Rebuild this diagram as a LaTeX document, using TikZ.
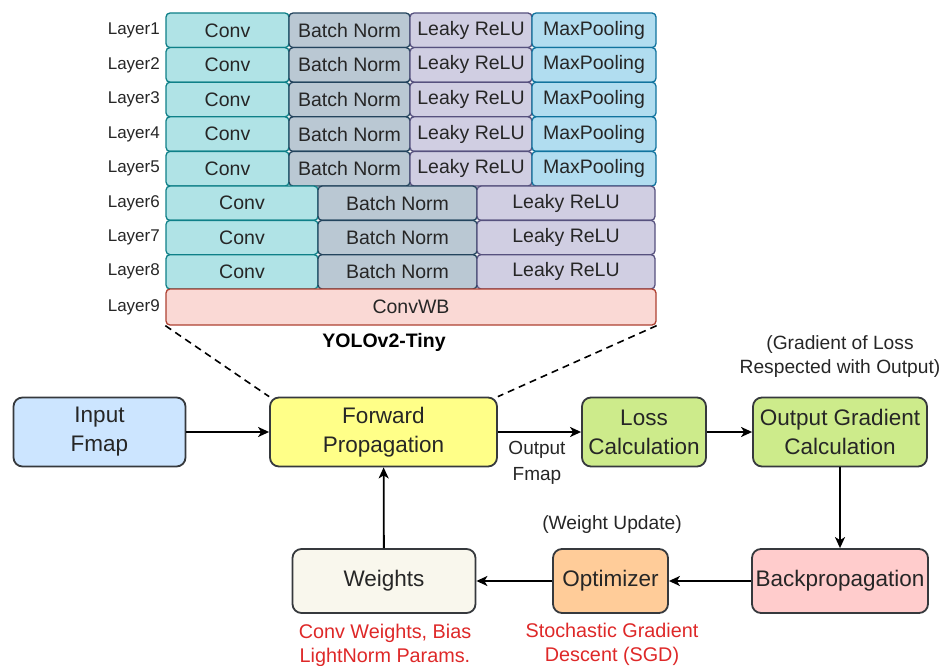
\documentclass[tikz,border=0pt]{standalone}
\usepackage{fontspec}
\setmainfont{Liberation Sans}
\usetikzlibrary{arrows.meta}
\definecolor{convfill}{HTML}{B0E3E6}\definecolor{convdraw}{HTML}{0E8088}
\definecolor{bnfill}{HTML}{BAC8D3}\definecolor{bndraw}{HTML}{23445D}
\definecolor{lrfill}{HTML}{D0CEE2}\definecolor{lrdraw}{HTML}{56517E}
\definecolor{mpfill}{HTML}{B1DDF0}\definecolor{mpdraw}{HTML}{10739E}
\definecolor{wbfill}{HTML}{FAD9D5}\definecolor{wbdraw}{HTML}{AE4132}
\definecolor{boxdraw}{HTML}{36393D}
\definecolor{inpfill}{HTML}{CCE5FF}
\definecolor{fwdfill}{HTML}{FFFF88}
\definecolor{grnfill}{HTML}{CDEB8B}
\definecolor{bpfill}{HTML}{FFCCCC}
\definecolor{optfill}{HTML}{FFCC99}
\definecolor{wtfill}{HTML}{F9F7ED}
\definecolor{txt}{HTML}{262626}
\definecolor{redtxt}{RGB}{222,40,40}
\begin{document}
\begin{tikzpicture}[x=1pt,y=-1pt,
  cell/.style={draw, rounded corners=4pt, line width=1.3pt, inner sep=0pt, text=txt,
    font=\fontsize{19.5}{20}\selectfont},
  convc/.style={cell, fill=convfill, draw=convdraw},
  bnc/.style={cell, fill=bnfill, draw=bndraw},
  lrc/.style={cell, fill=lrfill, draw=lrdraw},
  mpc/.style={cell, fill=mpfill, draw=mpdraw},
  wbc/.style={cell, fill=wbfill, draw=wbdraw},
  lab/.style={anchor=east, inner sep=0pt, text=txt, font=\fontsize{17}{18}\selectfont},
  box/.style={draw=boxdraw, line width=1.8pt, rounded corners=9pt, inner sep=0pt,
    align=center, text=txt, font=\fontsize{22.5}{29}\selectfont},
  note/.style={align=center, inner sep=0pt, text=txt, font=\fontsize{19.2}{24}\selectfont},
  rednote/.style={align=center, inner sep=0pt, text=redtxt, font=\fontsize{19.8}{24}\selectfont},
  arr/.style={line width=1.8pt, draw=black, -{Stealth[length=11pt,width=10pt,inset=3pt]}},
  zoomline/.style={line width=1.6pt, dash pattern=on 7pt off 5pt}
]
\useasboundingbox (0,0) rectangle (943,666);

% Layers 1-5
\foreach \i/\y in {1/30.3,2/64.9,3/99.5,4/134.1,5/168.7}{
  \node[convc, minimum width=123pt, minimum height=34.6pt] (conv\i) at (227.5,\y) {Conv};
  \node[bnc, minimum width=121pt, minimum height=34.6pt] (bn\i) at (349.5,\y) {Batch Norm};
  \node[lrc, minimum width=122pt, minimum height=34.6pt] (lr\i) at (471,\y) {Leaky ReLU};
  \node[mpc, minimum width=124pt, minimum height=34.6pt] (mp\i) at (594,\y) {MaxPooling};
  \node[lab] (lab\i) at (160,\y) {Layer\i};
}
% Layers 6-8
\foreach \i/\y in {6/203.2,7/237.5,8/271.8}{
  \node[convc, minimum width=152pt, minimum height=34.3pt] (conv\i) at (242,\y) {Conv};
  \node[bnc, minimum width=159pt, minimum height=34.3pt] (bn\i) at (397.5,\y) {Batch Norm};
  \node[lrc, minimum width=178pt, minimum height=34.3pt] (lr\i) at (566,\y) {Leaky ReLU};
  \node[lab] (lab\i) at (160,\y) {Layer\i};
}
% Layer 9
\node[wbc, minimum width=490pt, minimum height=36pt] (wb) at (411,307) {ConvWB};
\node[lab] (lab9) at (160,307) {Layer9};
\node[inner sep=0pt, text=black, font=\fontsize{19.5}{20}\selectfont\bfseries] (yolo) at (384,342) {YOLOv2-Tiny};

% Main flow
\node[box, fill=inpfill, minimum width=172pt, minimum height=69pt] (inp) at (99.5,432) {Input\\Fmap};
\node[box, fill=fwdfill, minimum width=227pt, minimum height=69pt] (fwd) at (383.5,432) {Forward\\Propagation};
\node[box, fill=grnfill, minimum width=124pt, minimum height=69pt] (loss) at (644,432) {Loss\\Calculation};
\node[box, fill=grnfill, minimum width=174pt, minimum height=69pt] (ogc) at (840,432) {Output Gradient\\Calculation};
\node[box, fill=bpfill, minimum width=176pt, minimum height=64pt] (bp) at (840,581) {Backpropagation};
\node[box, fill=optfill, minimum width=115pt, minimum height=64pt] (opt) at (610.5,581) {Optimizer};
\node[box, fill=wtfill, minimum width=183pt, minimum height=64pt] (wts) at (384,581) {Weights};

% Dashed zoom lines
\draw[zoomline] (wb.south west) -- (fwd.north west);
\draw[zoomline] (wb.south east) -- (fwd.north east);

% Arrows
\draw[arr] (inp) -- (fwd);
\draw[arr] (fwd) -- (loss);
\draw[arr] (loss) -- (ogc);
\draw[arr] (ogc) -- (bp);
\draw[arr] (bp) -- (opt);
\draw[arr] (opt) -- (wts);
\draw[arr] (wts) -- (fwd);

% Notes
\node[note, font=\fontsize{19}{26}\selectfont] (ofm) at (537,463) {Output\\Fmap};
\node[note] (gnote) at (840,357) {(Gradient of Loss\\Respected with Output)};
\node[note] (wnote) at (612,525) {(Weight Update)};
\node[rednote] (wred) at (385,645) {Conv Weights, Bias\\LightNorm Params.};
\node[rednote] (sgd) at (612,644) {Stochastic Gradient\\Descent (SGD)};
\end{tikzpicture}
\end{document}
